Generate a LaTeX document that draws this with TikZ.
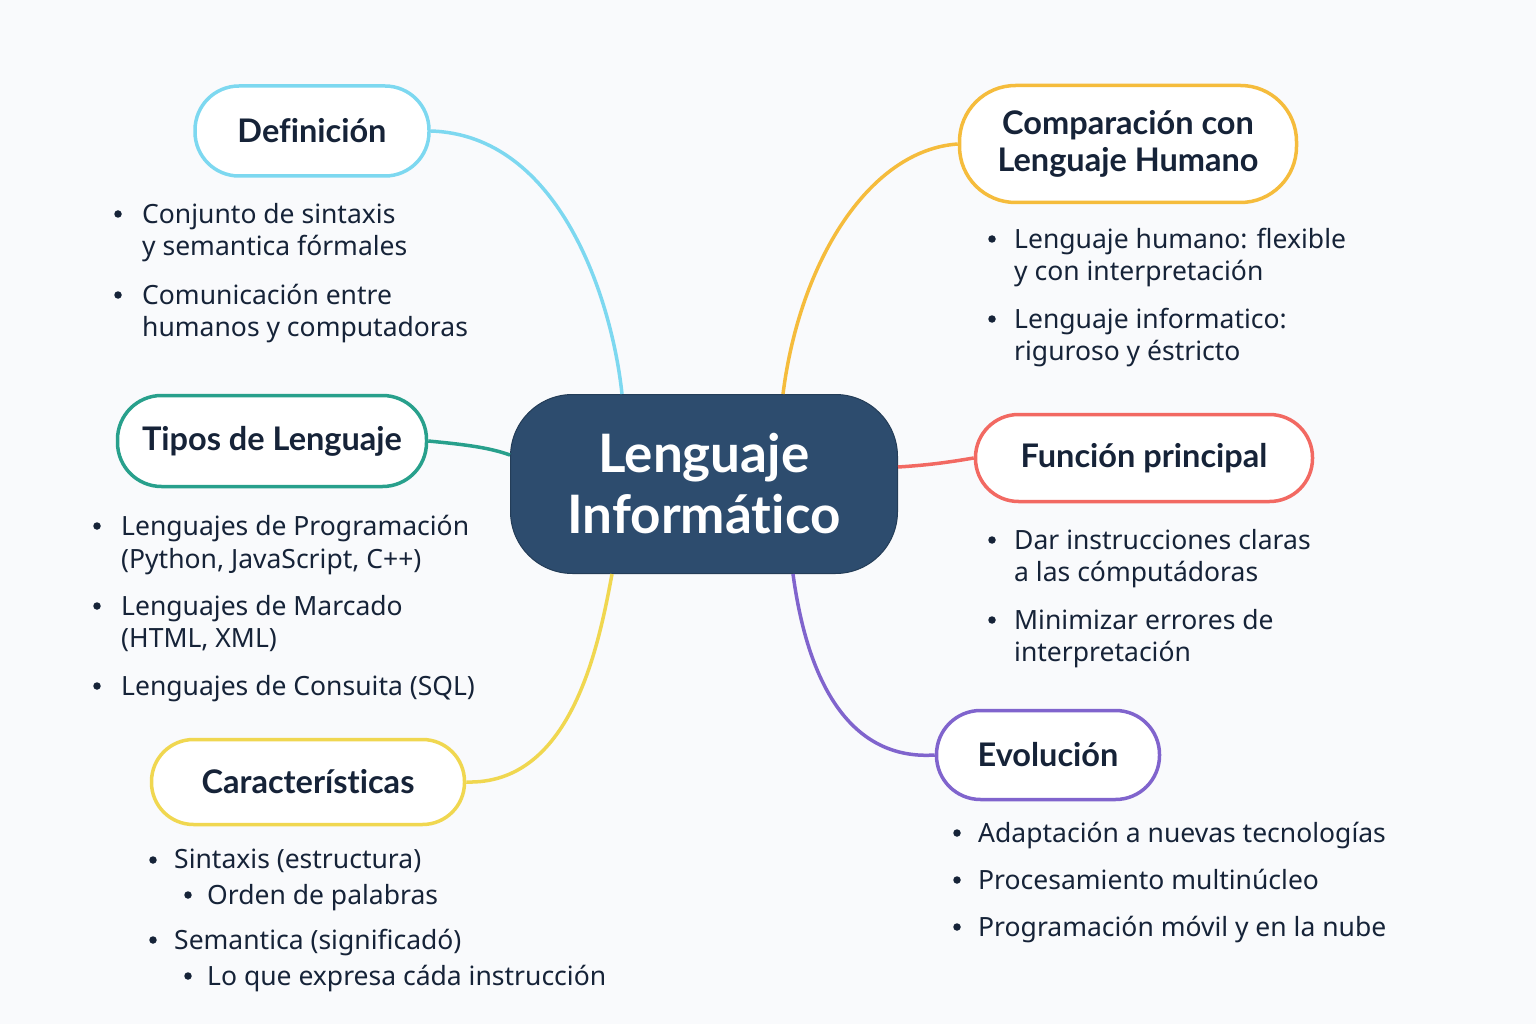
\documentclass[tikz,border=0pt]{standalone}
\usepackage{fontspec}
\setmainfont{Noto Sans}
\newfontfamily\headfont{Lato}[Ligatures={NoCommon}]
\usetikzlibrary{calc}
\definecolor{bgc}{RGB}{249,250,252}
\definecolor{txt}{RGB}{22,35,56}
\definecolor{navy}{RGB}{45,76,110}
\definecolor{ccyan}{RGB}{125,216,240}
\definecolor{camber}{RGB}{245,188,60}
\definecolor{cteal}{RGB}{40,160,140}
\definecolor{ccoral}{RGB}{242,105,98}
\definecolor{cyel}{RGB}{240,215,80}
\definecolor{cpurp}{RGB}{128,100,205}
\tikzset{
  topic/.style={draw=#1, line width=3.5pt, fill=white, rounded corners=44pt, align=center,
    text=txt, font=\headfont\bfseries\fontsize{32.5}{37}\selectfont, inner sep=0pt},
  link/.style={draw=#1, line width=3.5pt},
  items/.style={anchor=north west, align=left, text=txt, inner sep=0pt,
    font=\fontsize{26.5}{32.5}\selectfont},
  dot/.style={circle, fill=txt, inner sep=0pt, minimum size=7.5pt}
}
\begin{document}
\begin{tikzpicture}[x=1pt,y=-1pt]
\useasboundingbox (0,0) rectangle (1536,1024);
\fill[bgc] (0,0) rectangle (1536,1024);

% central node
\node[fill=navy, draw=navy!80!black, line width=1pt, rounded corners=62pt, minimum width=387pt, minimum height=179pt,
  text=white, align=center, font=\headfont\bfseries\fontsize{53}{61}\selectfont, inner sep=0pt] (center) at (704,484) {Lenguaje\\Informático};

% topic nodes
\node[topic=ccyan, minimum width=234pt, minimum height=90pt] (def) at (312,131) {Definición};
\node[topic=camber, minimum width=337pt, minimum height=117pt, rounded corners=56pt] (cmp) at (1128,144) {Comparación con\\Lenguaje Humano};
\node[topic=cteal, minimum width=309pt, minimum height=91pt] (tip) at (272,441) {Tipos de Lenguaje};
\node[topic=ccoral, minimum width=337pt, minimum height=87pt, rounded corners=43pt] (fun) at (1144,458) {Función principal};
\node[topic=cyel, minimum width=313pt, minimum height=85pt, rounded corners=42pt] (car) at (308,782) {Características};
\node[topic=cpurp, minimum width=223pt, minimum height=89pt] (evo) at (1048,755) {Evolución};

% connectors
\draw[link=ccyan] (def.east) .. controls (560,135) and (612,300) .. ($(center.north)+(-82,0)$);
\draw[link=camber] ($(center.north)+(79,0)$) .. controls (800,260) and (870,150) .. (cmp.west);
\draw[link=cteal] (tip.east) .. controls (470,445) and (490,448) .. ($(center.west)+(0,-29)$);
\draw[link=ccoral] ($(center.east)+(0,-17)$) .. controls (930,465) and (950,462) .. (fun.west);
\draw[link=cyel] (car.east) .. controls (570,785) and (598,650) .. ($(center.south)+(-92,0)$);
\draw[link=cpurp] ($(center.south)+(89,0)$) .. controls (810,700) and (860,760) .. (evo.west);

% Definición items
\node[dot] (d1b) at (118,214) {};
\node[items] (d1) at (142,203) {Conjunto de sintaxis\\y semantica fórmales};
\node[dot] (d2b) at (118,295) {};
\node[items] (d2) at (142,284) {Comunicación entre\\humanos y computadoras};

% Comparación items
\node[dot] (c1b) at (992,239) {};
\node[items] (c1) at (1014,228) {Lenguaje humano: flexible\\y con interpretación};
\node[dot] (c2b) at (992,319) {};
\node[items] (c2) at (1014,308) {Lenguaje informatico:\\riguroso y éstricto};

% Tipos items
\node[dot] (t1b) at (97,526) {};
\node[items] (t1) at (121,515) {Lenguajes de Programación\\(Python, JavaScript, C++)};
\node[dot] (t2b) at (97,606) {};
\node[items] (t2) at (121,595) {Lenguajes de Marcado\\(HTML, XML)};
\node[dot] (t3b) at (97,686) {};
\node[items] (t3) at (121,675) {Lenguajes de Consuita (SQL)};

% Función items
\node[dot] (f1b) at (992,540) {};
\node[items] (f1) at (1014,529) {Dar instrucciones claras\\a las cómputádoras};
\node[dot] (f2b) at (992,620) {};
\node[items] (f2) at (1014,609) {Minimizar errores de\\interpretación};

% Características items
\node[dot] (k1b) at (153,860) {};
\node[items] (k1) at (174,849) {Sintaxis (estructura)};
\node[dot] (k2b) at (188,895) {};
\node[items] (k2) at (207,884) {Orden de palabras};
\node[dot] (k3b) at (153,940) {};
\node[items] (k3) at (174,929) {Semantica (significadó)};
\node[dot] (k4b) at (188,976) {};
\node[items] (k4) at (207,965) {Lo que expresa cáda instrucción};

% Evolución items
\node[dot] (e1b) at (957,833) {};
\node[items] (e1) at (978,822) {Adaptación a nuevas tecnologías};
\node[dot] (e2b) at (957,880) {};
\node[items] (e2) at (978,869) {Procesamiento multinúcleo};
\node[dot] (e3b) at (957,927) {};
\node[items] (e3) at (978,916) {Programación móvil y en la nube};
\end{tikzpicture}
\end{document}
